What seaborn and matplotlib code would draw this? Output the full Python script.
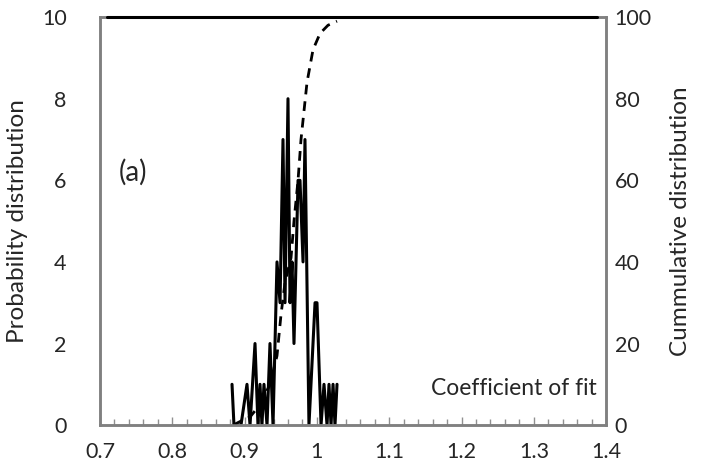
import numpy as np
import pandas as pd
import seaborn as sns
import matplotlib.pyplot as plt
from matplotlib.ticker import MultipleLocator

# probability distribution (left axis)
prob_x = [0.8826, 0.8853, 0.895, 0.9033, 0.9075, 0.9144, 0.9185, 0.9213, 0.924,
          0.9268, 0.931, 0.9351, 0.9393, 0.9448, 0.949, 0.9531, 0.9559, 0.96,
          0.9628, 0.9656, 0.9683, 0.9739, 0.9766, 0.9808, 0.9835, 0.989, 0.9974,
          1.0001, 1.0057, 1.0098, 1.014, 1.0167, 1.0195, 1.0223, 1.025, 1.0278]
prob_y = [1, 0, 0, 1, 0, 2, 0, 1, 0,
          1, 0, 2, 0, 4, 3, 7, 3, 8,
          3, 4, 2, 6, 6, 4, 7, 0, 3,
          3, 0, 1, 0, 1, 0, 1, 0, 1]

# cumulative distribution (right axis, %)
cum_x = [0.884, 0.895, 0.9075, 0.9213, 0.9351, 0.9448, 0.9503, 0.9559, 0.9642,
         0.9683, 0.9739, 0.978, 0.9863, 0.9946, 1.0043, 1.0153, 1.0278]
cum_y = [0, 1, 2, 5, 10, 17, 27, 35, 41,
         50, 60, 70, 84, 92, 96, 98, 99]

# solid line along the top of the right axis
top_x = [0.7097, 1.387]
top_y = [100, 100]

x_ticks = [0.7, 0.8, 0.9, 1.0, 1.1, 1.2, 1.3, 1.4]
x_labels = ["0.7", "0.8", "0.9", "1", "1.1", "1.2", "1.3", "1.4"]

sns.set_theme(style="white")
plt.rcParams['font.family'] = ['Lato', 'DejaVu Sans']

fig, ax = plt.subplots(figsize=(7.14, 4.75), dpi=100)
fig.subplots_adjust(left=0.14, right=0.849, top=0.964, bottom=0.105)

prob_df = pd.DataFrame({"x": prob_x, "y": prob_y})
sns.lineplot(data=prob_df, x="x", y="y", ax=ax, color="black", lw=2.2,
             sort=False, estimator=None)

ax2 = ax.twinx()
cum_df = pd.DataFrame({"x": cum_x, "y": cum_y})
sns.lineplot(data=cum_df, x="x", y="y", ax=ax2, color="black", lw=2,
             sort=False, estimator=None, dashes=False, linestyle=(0, (3.5, 2.5)))
top_df = pd.DataFrame({"x": top_x, "y": top_y})
sns.lineplot(data=top_df, x="x", y="y", ax=ax2, color="black", lw=2.2,
             sort=False, estimator=None, clip_on=False, zorder=5)

ax.set_xlim(0.7, 1.4)
ax.set_ylim(0, 10)
ax2.set_ylim(0, 100)
ax.set_xticks(x_ticks)
ax.set_xticklabels(x_labels)
ax.xaxis.set_minor_locator(MultipleLocator(0.02))
ax.set_yticks(range(0, 11, 2))
ax2.set_yticks(range(0, 101, 20))

ax.tick_params(axis="x", which="major", direction="in", length=6, width=1,
               color="#909090", bottom=True, labelsize=15.5, pad=12)
ax.tick_params(axis="x", which="minor", direction="in", length=4, width=1,
               color="#909090", bottom=True)
ax.tick_params(axis="y", length=0, labelsize=15.5, pad=24)
ax2.tick_params(axis="y", length=0, labelsize=15.5, pad=6)

for a in (ax, ax2):
    for s in a.spines.values():
        s.set_color("#808080")
        s.set_linewidth(1.8)

ax.set_xlabel("")
ax.set_ylabel("Probability distribution", fontsize=17.5, labelpad=10)
ax2.set_ylabel("Cummulative distribution", fontsize=17.5, labelpad=13)

ax.text(0.726, 6.2, "(a)", fontsize=20, va="center", ha="left")
ax.text(1.387, 0.9, "Coefficient of fit", fontsize=16.5, va="center", ha="right")

plt.savefig("out.png", dpi=100)
